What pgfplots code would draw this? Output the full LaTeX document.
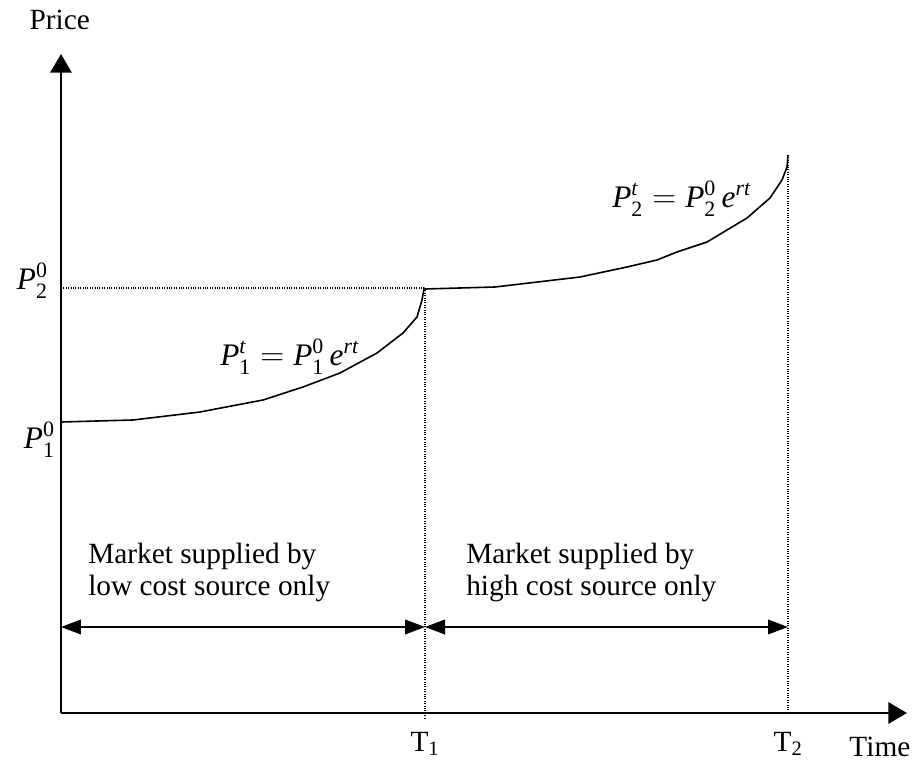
\documentclass[border=0pt]{standalone}
\usepackage{amsmath}
\usepackage{fontspec}
\setmainfont{Liberation Serif}
\usepackage{pgfplots}
\pgfplotsset{compat=1.18}
\usetikzlibrary{arrows.meta}

\newcommand\lbl{\fontsize{22}{26}\selectfont}
\newcommand\mlbl{\fontsize{23.5}{28}\selectfont}
\newcommand\iv[1]{\textit{#1}}
\newcommand\dbl{{Triangle[length=15pt,width=11pt]}-{Triangle[length=15pt,width=11pt]}}

\begin{document}
\begin{tikzpicture}
\begin{axis}[
    x=0.75pt, y=0.75pt,
    xmin=0, xmax=846,
    ymin=0, ymax=659,
    axis lines=left,
    axis line style={line width=1.5pt, -{Triangle[length=14pt,width=16pt]}},
    clip=false,
    major tick length=0pt,
    xtick={364,727},
    xticklabels={T$_{\textrm{1}}$, T$_{\textrm{2}}$},
    ytick=\empty,
    tick label style={font=\lbl},
    xticklabel style={anchor=base, yshift=-29pt},
    xlabel={Time},
    xlabel style={font=\lbl, at={(rel axis cs:1.0095,-0.0653)}, anchor=base east},
    ylabel={Price},
    ylabel style={font=\lbl, rotate=-90, at={(rel axis cs:-0.0426,1.0379)}, anchor=base west},
]

% low cost source price path
\addplot[black, line width=1.2pt] coordinates {
(0,291) (72,293) (139,301) (202,313) (242,326) (279,340) (316,360)
(342,380) (356,396) (361,413) (363,424) (364,425)
};

% high cost source price path
\addplot[black, line width=1.2pt] coordinates {
(364,424) (434,426) (519,436) (566,446) (596,453) (616,461) (646,471)
(666,483) (686,495) (709,515) (721,533) (726,546) (727,558)
};

% guide lines
\addplot[black, densely dotted, line width=0.8pt] coordinates {(0,425) (364,425)};
\addplot[black, densely dotted, line width=0.8pt] coordinates {(364,425) (364,-5)};
\addplot[black, densely dotted, line width=0.8pt] coordinates {(727,558) (727,0)};

% supply periods
\addplot[black, line width=1.2pt, \dbl] coordinates {(0,86) (364,86)};
\addplot[black, line width=1.2pt, \dbl] coordinates {(364,86) (727,86)};

\node[font=\lbl, anchor=base west, inner sep=0pt] at (axis cs:27,150) {Market supplied by};
\node[font=\lbl, anchor=base west, inner sep=0pt] at (axis cs:27,118) {low cost source only};
\node[font=\lbl, anchor=base west, inner sep=0pt] at (axis cs:405,150) {Market supplied by};
\node[font=\lbl, anchor=base west, inner sep=0pt] at (axis cs:405,118) {high cost source only};

\node[font=\mlbl, anchor=base east, inner sep=0pt] at (axis cs:-13,423) {$\iv{P}_{\textrm{2}}^{\textrm{0}}$};
\node[font=\mlbl, anchor=base east, inner sep=0pt] at (axis cs:-6,264) {$\iv{P}_{\textrm{1}}^{\textrm{0}}$};

\node[font=\mlbl, anchor=base west, inner sep=0pt] at (axis cs:159,347)
  {$\iv{P}_{\textrm{1}}^{\iv{t}} = \iv{P}_{\textrm{1}}^{\textrm{0}}\,\iv{e}^{\iv{rt}}$};
\node[font=\mlbl, anchor=base west, inner sep=0pt] at (axis cs:551,505)
  {$\iv{P}_{\textrm{2}}^{\iv{t}} = \iv{P}_{\textrm{2}}^{\textrm{0}}\,\iv{e}^{\iv{rt}}$};

\coordinate (bl) at (axis cs:-61,-58);
\coordinate (tr) at (axis cs:862,713);
\end{axis}
\pgfresetboundingbox
\path (bl) rectangle (tr);
\end{tikzpicture}
\end{document}
